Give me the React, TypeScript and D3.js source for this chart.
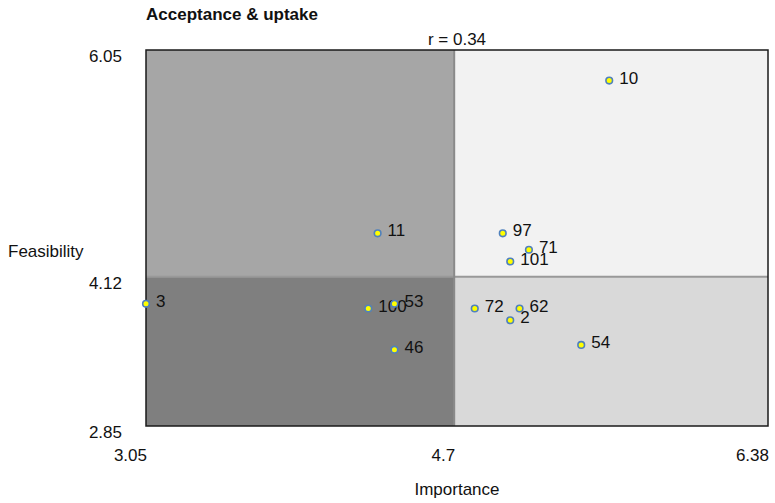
import React from "react";
import * as d3 from "d3";

const pointLabels = ["10", "11", "97", "71", "101", "3", "100", "53", "46", "72", "62", "2", "54"];
const importance = [5.53, 4.29, 4.96, 5.1, 5.0, 3.05, 4.24, 4.38, 4.38, 4.81, 5.05, 5.0, 5.38];
const feasibility = [5.79, 4.49, 4.49, 4.35, 4.25, 3.89, 3.85, 3.89, 3.5, 3.85, 3.85, 3.75, 3.54];
const xTicks = [3.05, 4.7, 6.38];
const yTicks = [2.85, 4.12, 6.05];
const xSplit = 4.7;
const ySplit = 4.12;
const title = "Acceptance & uptake";
const subtitle = "r = 0.34";
const xTitle = "Importance";
const yTitle = "Feasibility";

const W = 775;
const H = 503;
const L = 146, R = 768, T = 50, B = 426;
const FONT = "'Liberation Sans', Arial, sans-serif";
const FS = 17;

export default function App() {
  const x = d3.scaleLinear().domain([xTicks[0], xTicks[2]]).range([L, R]);
  const y = d3.scaleLinear().domain([yTicks[0], yTicks[2]]).range([B, T]);
  const xs = x(xSplit);
  const ys = y(ySplit);
  const pts = pointLabels.map((l, i) => ({ l, x: importance[i], y: feasibility[i] }));
  return (
    <svg width={W} height={H} style={{ position: "absolute", left: 0, top: 0, background: "#fff" }} fontFamily={FONT}>
      <rect x={L} y={T} width={xs - L} height={ys - T} fill="#a6a6a6" />
      <rect x={xs} y={T} width={R - xs} height={ys - T} fill="#f2f2f2" />
      <rect x={L} y={ys} width={xs - L} height={B - ys} fill="#7f7f7f" />
      <rect x={xs} y={ys} width={R - xs} height={B - ys} fill="#d9d9d9" />
      <line x1={L} x2={R} y1={ys} y2={ys} stroke="#999" strokeWidth={2} />
      <line x1={xs} x2={xs} y1={T} y2={B} stroke="#8a8a8a" strokeWidth={2} />
      <rect x={L} y={T} width={R - L} height={B - T} fill="none" stroke="#1a1a1a" strokeWidth={1.5} />
      {pts.map((p) => (
        <g key={p.l}>
          <circle cx={x(p.x)} cy={y(p.y)} r={3.3} fill="#ffff00" stroke="#4f81bd" strokeWidth={1.6} />
          <text x={x(p.x) + 10} y={y(p.y) + 3} fontSize={FS} fill="#111">{p.l}</text>
        </g>
      ))}
      {xTicks.map((t) => (
        <text key={t} x={x(t) + 1} y={461} fontSize={FS} textAnchor="end" fill="#111">{String(t)}</text>
      ))}
      {yTicks.map((t) => (
        <text key={t} x={122} y={y(t) + 12} fontSize={FS} textAnchor="end" fill="#111">{String(t)}</text>
      ))}
      <text x={146} y={20} fontSize={17} fontWeight="bold" fill="#111">{title}</text>
      <text x={(L + R) / 2} y={45} fontSize={FS} textAnchor="middle" fill="#111">{subtitle}</text>
      <text x={(L + R) / 2} y={495} fontSize={FS} textAnchor="middle" fill="#111">{xTitle}</text>
      <text x={8} y={257} fontSize={FS} fill="#111">{yTitle}</text>
    </svg>
  );
}
